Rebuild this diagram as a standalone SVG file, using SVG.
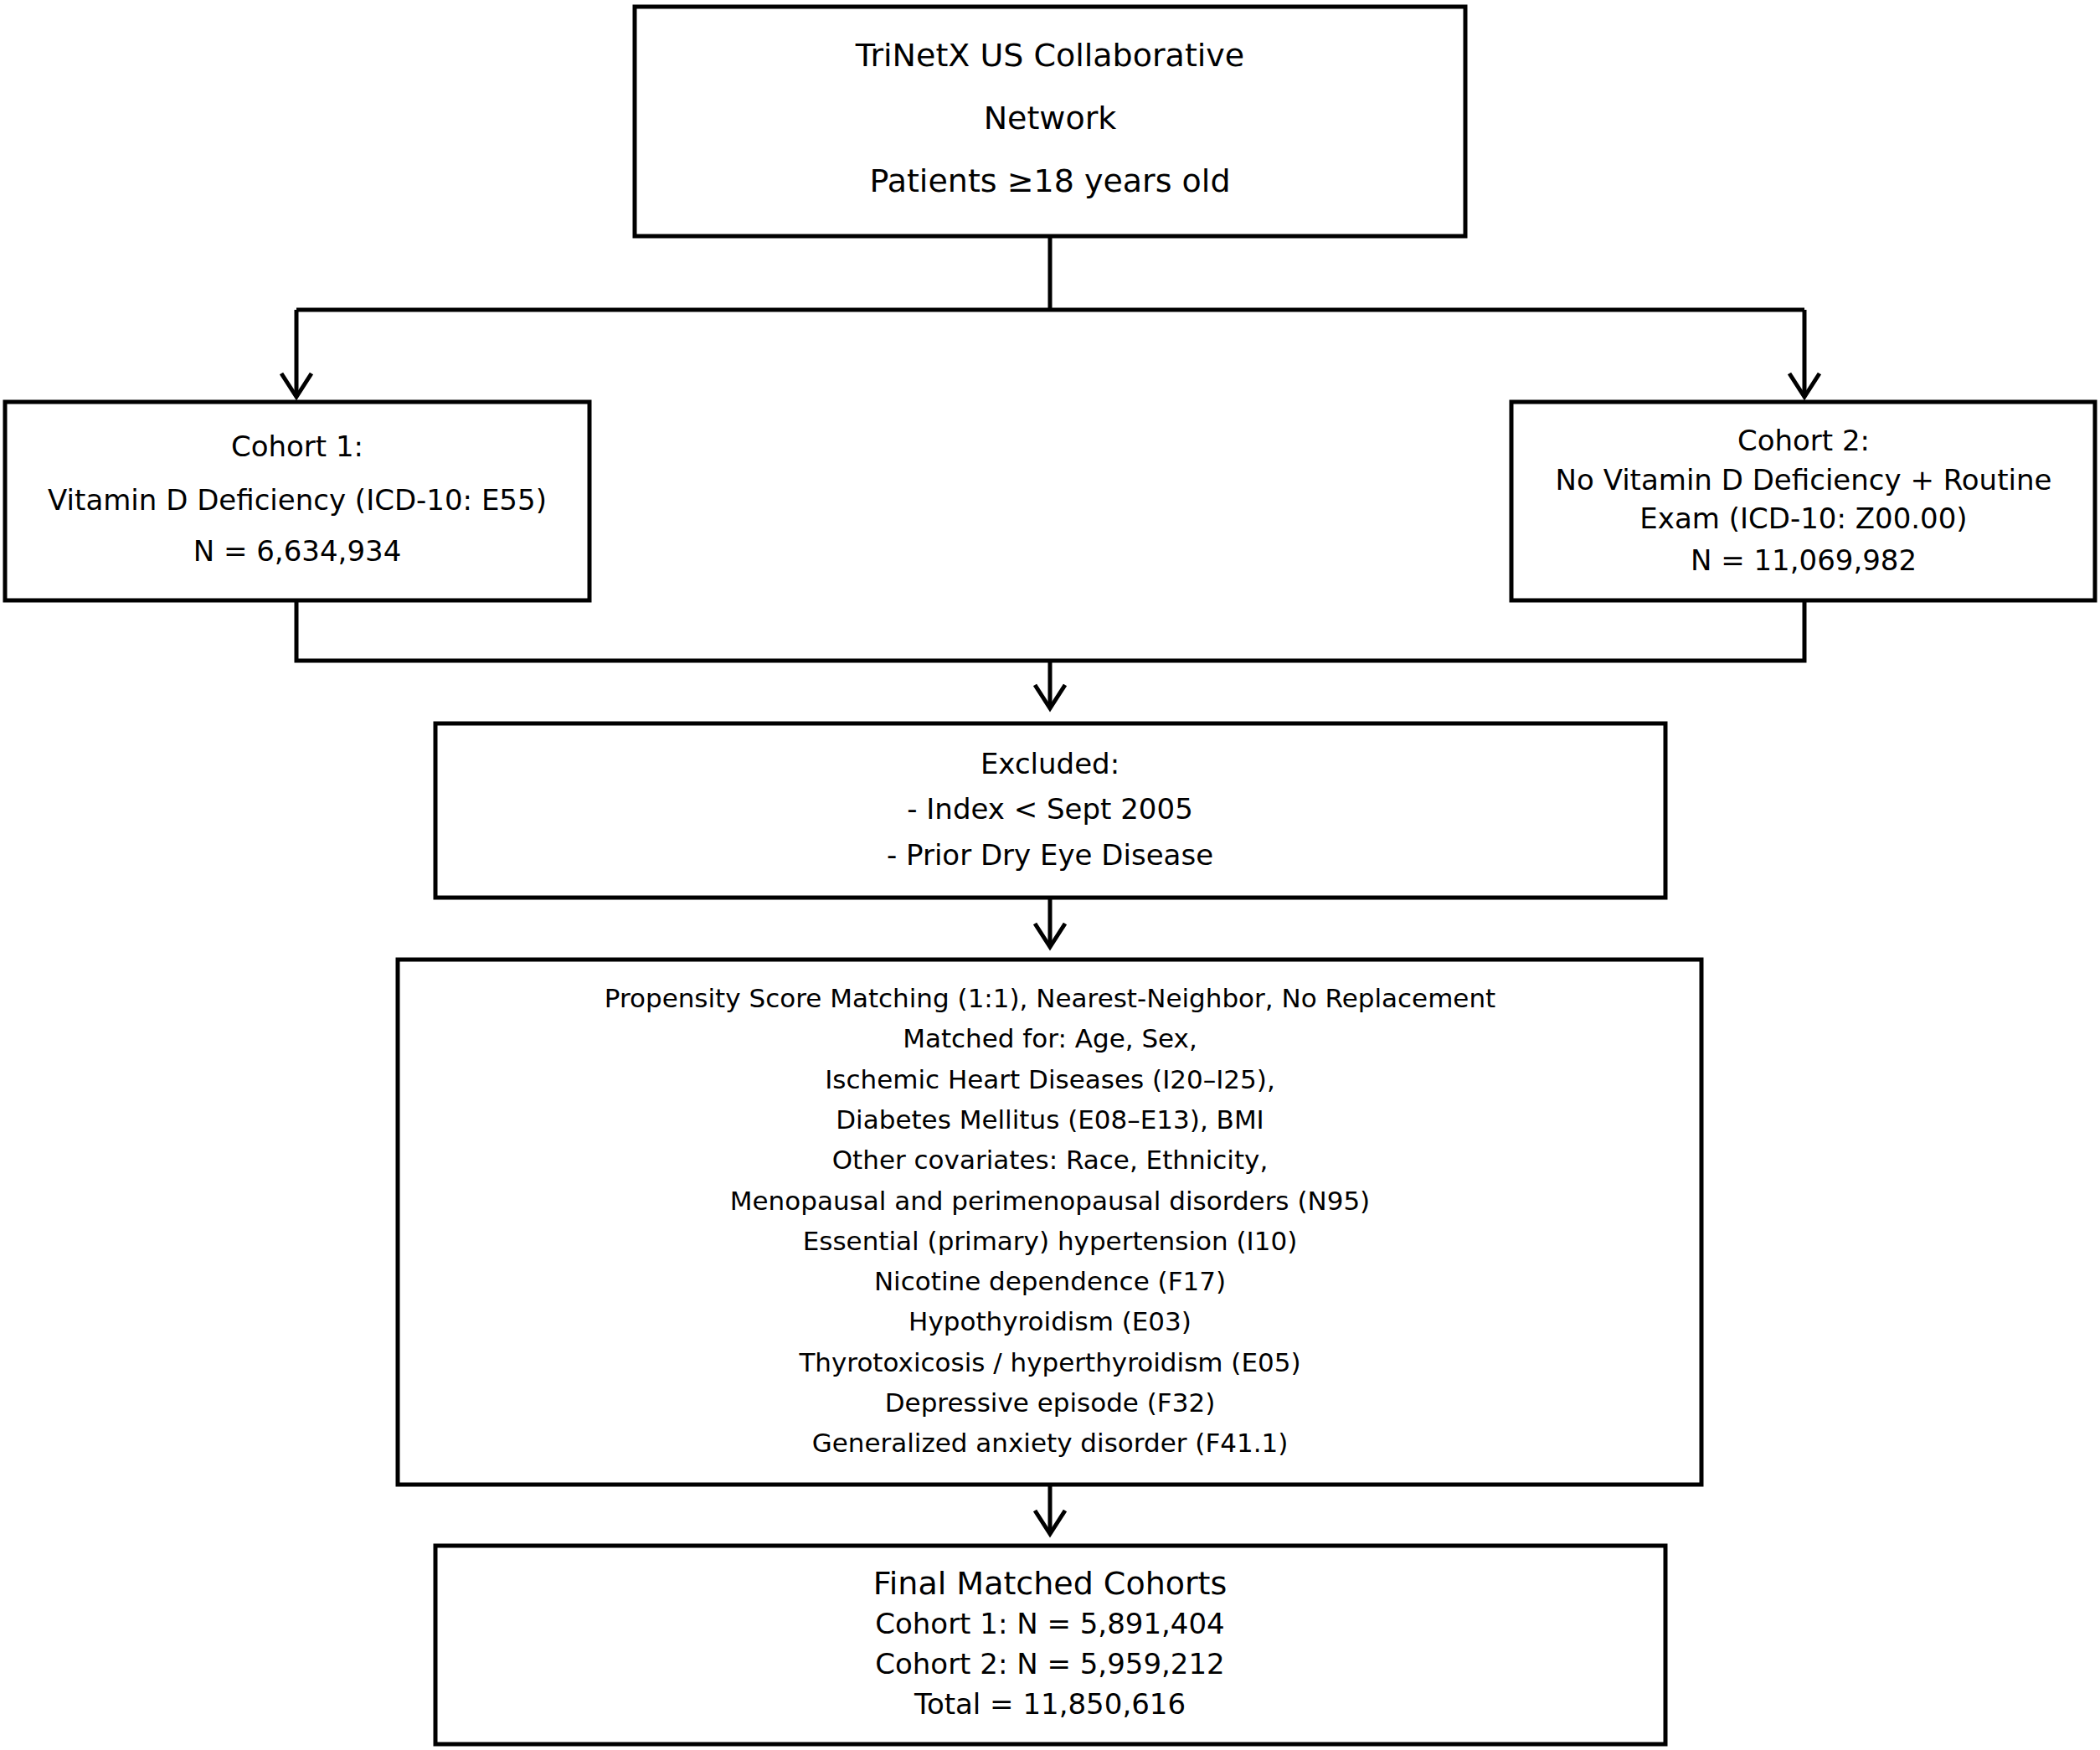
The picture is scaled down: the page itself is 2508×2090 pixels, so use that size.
<svg xmlns="http://www.w3.org/2000/svg" width="2508" height="2090" viewBox="0 0 2508 2090">
<style>
.b{fill:#fff;stroke:#000;stroke-width:5}
.c{fill:none;stroke:#000;stroke-width:5}
text{font-family:"DejaVu Sans",sans-serif;text-anchor:middle;dominant-baseline:central;fill:#000}
.t{font-size:38px}.m{font-size:34px}.s{font-size:31px}
</style>
<defs><marker id="a" markerWidth="12" markerHeight="12" refX="6" refY="10" orient="auto" markerUnits="userSpaceOnUse" viewBox="0 0 12 12"><path d="M0,0 L6,10 L12,0" fill="none" stroke="#000" stroke-width="0"/></marker></defs>
<rect width="2508" height="2090" fill="#fff"/>
<g id="connectors" class="c">
<path d="M1254,282V370M354,370H2155"/>
<path d="M354,370V474M2155,370V474"/>
<path d="M354,717V789H2155V717M1254,789V846"/>
<path d="M1254,1072V1131M1254,1773V1832"/>
<path d="M336,446L354,474L372,446M2137,446L2155,474L2173,446M1236,818L1254,846L1272,818M1236,1103L1254,1131L1272,1103M1236,1804L1254,1832L1272,1804"/>
</g>
<g id="top"><rect class="b" x="758" y="8" width="992" height="274"/>
<text class="t" x="1254" y="66">TriNetX US Collaborative</text><text class="t" x="1254" y="141">Network</text><text class="t" x="1254" y="216">Patients ≥18 years old</text></g>
<g id="cohort1"><rect class="b" x="6" y="480" width="698" height="237"/>
<text class="m" x="355" y="533">Cohort 1:</text><text class="m" x="355" y="597">Vitamin D Deficiency (ICD-10: E55)</text><text class="m" x="355" y="658">N = 6,634,934</text></g>
<g id="cohort2"><rect class="b" x="1805" y="480" width="697" height="237"/>
<text class="m" x="2154" y="526">Cohort 2:</text><text class="m" x="2154" y="573">No Vitamin D Deficiency + Routine</text><text class="m" x="2154" y="619">Exam (ICD-10: Z00.00)</text><text class="m" x="2154" y="669">N = 11,069,982</text></g>
<g id="excluded"><rect class="b" x="520" y="864" width="1469" height="208"/>
<text class="m" x="1254" y="912">Excluded:</text><text class="m" x="1254" y="966">- Index &lt; Sept 2005</text><text class="m" x="1254" y="1021">- Prior Dry Eye Disease</text></g>
<g id="psm"><rect class="b" x="475" y="1146" width="1557" height="627"/>
<g class="s">
<text class="s" x="1254" y="1192">Propensity Score Matching (1:1), Nearest-Neighbor, No Replacement</text>
<text class="s" x="1254" y="1240">Matched for: Age, Sex,</text>
<text class="s" x="1254" y="1289">Ischemic Heart Diseases (I20–I25),</text>
<text class="s" x="1254" y="1337">Diabetes Mellitus (E08–E13), BMI</text>
<text class="s" x="1254" y="1385">Other covariates: Race, Ethnicity,</text>
<text class="s" x="1254" y="1434">Menopausal and perimenopausal disorders (N95)</text>
<text class="s" x="1254" y="1482">Essential (primary) hypertension (I10)</text>
<text class="s" x="1254" y="1530">Nicotine dependence (F17)</text>
<text class="s" x="1254" y="1578">Hypothyroidism (E03)</text>
<text class="s" x="1254" y="1627">Thyrotoxicosis / hyperthyroidism (E05)</text>
<text class="s" x="1254" y="1675">Depressive episode (F32)</text>
<text class="s" x="1254" y="1723">Generalized anxiety disorder (F41.1)</text>
</g></g>
<g id="final"><rect class="b" x="520" y="1846" width="1469" height="237"/>
<text class="t" x="1254" y="1891">Final Matched Cohorts</text><text class="m" x="1254" y="1939">Cohort 1: N = 5,891,404</text><text class="m" x="1254" y="1987">Cohort 2: N = 5,959,212</text><text class="m" x="1254" y="2035">Total = 11,850,616</text></g>
</svg>
